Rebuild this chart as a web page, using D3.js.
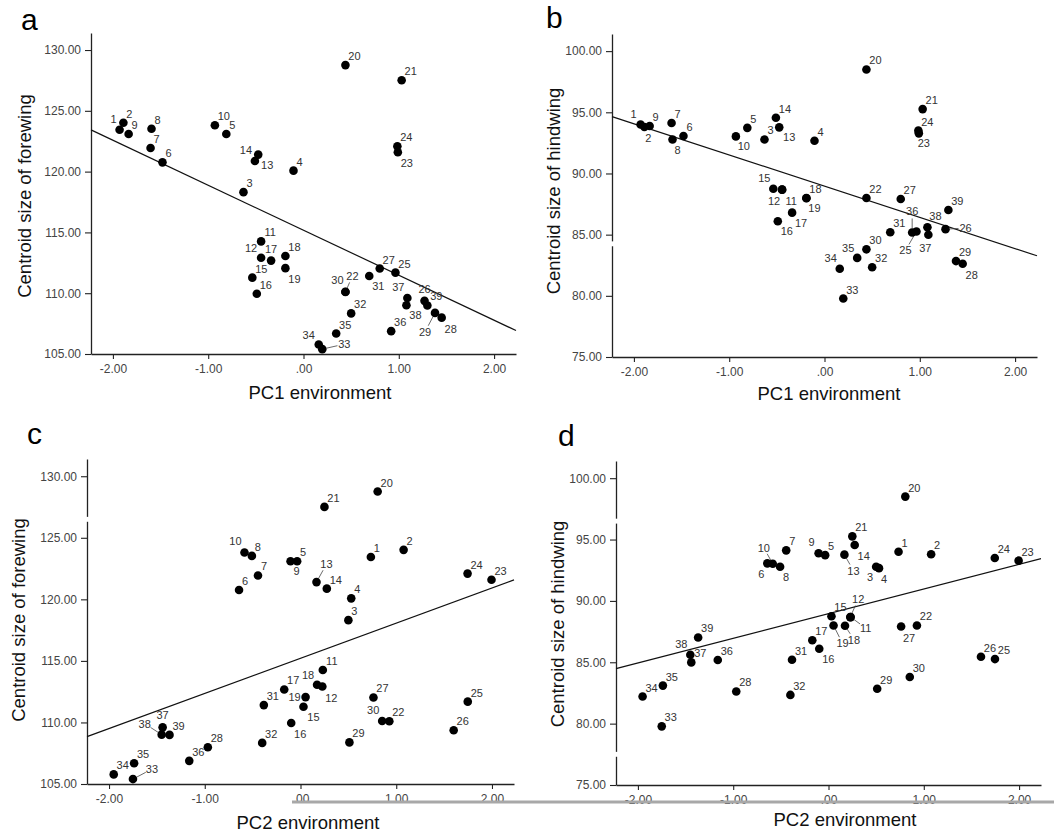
<!DOCTYPE html>
<html>
<head>
  <meta charset="UTF-8">
  <title>Centroid size vs environment PCs</title>
  <style>
    body { margin: 0; background: #fff; }
    svg { display: block; font-family: "Liberation Sans", Arial, sans-serif; }
  </style>
</head>
<body>
  <svg width="1054" height="833"></svg>

  <script src="https://d3js.org/d3.v7.min.js"></script>
  <script>
    // population numbers
    const ids = [1, 2, 3, 4, 5, 6, 7, 8, 9, 10, 11, 12, 13, 14, 15, 16, 17, 18, 19, 20,
                 21, 22, 23, 24, 25, 26, 27, 28, 29, 30, 31, 32, 33, 34, 35, 36, 37, 38, 39];

    // environment scores
    const pc1 = [-1.93, -1.89, -0.63, -0.105, -0.81, -1.48, -1.605, -1.595, -1.835, -0.93,
                 -0.445, -0.445, -0.475, -0.51, -0.537, -0.49, -0.34, -0.19, -0.19, 0.44,
                 1.03, 0.44, 0.99, 0.985, 0.965, 1.27, 0.80, 1.45, 1.38, 0.44,
                 0.69, 0.50, 0.197, 0.16, 0.343, 0.92, 1.09, 1.08, 1.30];
    const pc2 = [0.735, 1.077, 0.50, 0.53, -0.035, -0.642, -0.444, -0.508, -0.104, -0.585,
                 0.233, 0.228, 0.167, 0.275, 0.031, -0.097, -0.17, 0.173, 0.053, 0.806,
                 0.25, 0.928, 1.995, 1.745, 1.747, 1.60, 0.762, -0.968, 0.511, 0.853,
                 -0.383, -0.40, -1.75, -1.951, -1.738, -1.162, -1.44, -1.45, -1.368];

    // centroid sizes
    const forewing = [123.44, 124.02, 118.31, 120.08, 123.09, 120.76, 121.94, 123.53, 123.09, 123.81,
                      114.26, 112.92, 121.40, 120.87, 111.28, 109.96, 112.68, 113.06, 112.06, 128.76,
                      127.51, 110.10, 121.59, 122.09, 111.69, 109.37, 112.03, 107.99, 108.38, 110.12,
                      111.41, 108.34, 105.40, 105.78, 106.68, 106.88, 109.60, 109.01, 108.99];
    const hindwing = [94.0, 93.8, 92.78, 92.67, 93.73, 93.06, 94.12, 92.78, 93.88, 93.03,
                      88.68, 88.68, 93.77, 94.55, 88.75, 86.1, 86.8, 87.98, 88.0, 98.5,
                      95.26, 88.0, 93.28, 93.5, 85.26, 85.45, 87.91, 82.62, 82.84, 83.8,
                      85.2, 82.34, 79.78, 82.21, 83.1, 85.18, 84.99, 85.61, 87.02];

    const xTicks = [-2, -1, 0, 1, 2];
    const forewingTicks = [105, 110, 115, 120, 125, 130];
    const hindwingTicks = [75, 80, 85, 90, 95, 100];

    // fitted lines as drawn: [intercept, slope]
    const fitA = [115.18, -3.70];
    const fitB = [88.96, -2.55];
    const fitC = [115.21, 2.855];
    const fitD = [88.96, 2.01];

    // label placements that differ from the usual upper-right one (centre offset in px)
    const labelsA = {1: [-6, -11], 14: [-9, -11], 13: [9, 10], 23: [9, 11], 12: [-10, -10], 17: [0, -12],
                     19: [9, 11], 31: [9, 10], 30: [-8, -12], 22: [7, -16], 37: [-9, -11], 38: [9, 10],
                     26: [0, -12], 29: [-10, 19], 28: [9, 11], 34: [-10, -10], 33: [22, -5]};
    const labelsB = {1: [-7, -11], 2: [4, 11], 8: [5, 11], 10: [8, 10], 13: [10, 10], 23: [5, 10],
                     15: [-9, -11], 12: [-8, 11], 11: [9, 11], 19: [8, 10], 17: [9, 10], 16: [9, 10],
                     36: [0, -21], 38: [8, -11], 25: [-11, 19], 37: [-3, 13], 26: [20, -1], 28: [9, 11],
                     35: [-9, -10], 34: [-9, -11]};
    const labelsC = {9: [6, 10], 10: [-9, -11], 13: [10, -18], 18: [-9, -10], 12: [9, 11], 19: [-11, 0],
                     15: [10, 10], 16: [9, 11], 30: [-9, -11], 37: [0, -12], 38: [-17, -11], 33: [19, -10]};
    const labelsD = {3: [-6, 10], 4: [5, 11], 9: [-7, -11], 6: [-6, 11], 10: [-9, -16], 8: [6, 10],
                     13: [9, 16], 14: [9, 11], 12: [8, -18], 11: [15, 11], 19: [9, 18], 18: [9, 14],
                     16: [9, 10], 27: [8, 11], 38: [-9, -11]};

    const panels = [
      { letter: 'a', xs: pc1, ys: forewing, fit: fitA, yTicks: forewingTicks, yDomain: [105, 131.4],
        labels: labelsA, box: { left: 91, right: 516, top: 33, bottom: 354 },
        letterPos: [21, 30], xTitle: 'PC1 environment', xTitlePos: [320, 399],
        yTitle: 'Centroid size of forewing', yTitlePos: [31, 196], gaps: [] },
      { letter: 'b', xs: pc1, ys: hindwing, fit: fitB, yTicks: hindwingTicks, yDomain: [75, 101.4],
        labels: labelsB, box: { left: 612, right: 1037, top: 34, bottom: 357 },
        letterPos: [546, 28], xTitle: 'PC1 environment', xTitlePos: [829, 400],
        yTitle: 'Centroid size of hindwing', yTitlePos: [560, 191], gaps: [[84.05, 84.45]] },
      { letter: 'c', xs: pc2, ys: forewing, fit: fitC, yTicks: forewingTicks, yDomain: [105, 131.4],
        labels: labelsC, box: { left: 87, right: 514, top: 459, bottom: 784 },
        letterPos: [27, 444], xTitle: 'PC2 environment', xTitlePos: [308, 829],
        yTitle: 'Centroid size of forewing', yTitlePos: [25, 620], gaps: [[126.3, 126.7]] },
      { letter: 'd', xs: pc2, ys: hindwing, fit: fitD, yTicks: hindwingTicks, yDomain: [75, 101.4],
        labels: labelsD, box: { left: 616, right: 1041, top: 461, bottom: 785 },
        letterPos: [558, 446], xTitle: 'PC2 environment', xTitlePos: [845, 826],
        yTitle: 'Centroid size of hindwing', yTitlePos: [564, 624], gaps: [[96.3, 96.7], [77.3, 77.7]] }
    ];

    const xDomain = [-2.23, 2.23];
    const fmtX = d => d === 0 ? '.00' : d.toFixed(2);
    const fmtY = d3.format('.2f');

    const svg = d3.select('svg');

    panels.forEach(p => {
      const x = d3.scaleLinear().domain(xDomain).range([p.box.left, p.box.right]);
      const y = d3.scaleLinear().domain(p.yDomain).range([p.box.bottom, p.box.top]);
      const g = svg.append('g');

      // axes
      const xAxis = g.append('g')
        .attr('transform', `translate(0, ${p.box.bottom})`)
        .call(d3.axisBottom(x).tickValues(xTicks).tickFormat(fmtX)
          .tickSize(5).tickSizeOuter(0).tickPadding(5));
      const yAxis = g.append('g')
        .attr('transform', `translate(${p.box.left}, 0)`)
        .call(d3.axisLeft(y).tickValues(p.yTicks).tickFormat(fmtY)
          .tickSize(6).tickSizeOuter(0).tickPadding(4));

      [xAxis, yAxis].forEach(a => {
        a.attr('font-family', null).attr('font-size', null);
        a.select('.domain').attr('stroke', '#222').attr('stroke-width', 1.3);
        a.selectAll('.tick line').attr('stroke', '#222').attr('stroke-width', 1.1);
        a.selectAll('.tick text').attr('font-size', '12px').attr('fill', '#444');
      });

      // small breaks in the y axis
      p.gaps.forEach(gp => {
        g.append('rect')
          .attr('x', p.box.left - 2)
          .attr('y', y(gp[1]))
          .attr('width', 4)
          .attr('height', y(gp[0]) - y(gp[1]))
          .attr('fill', '#fff');
      });

      // fitted line
      g.append('path')
        .datum(xDomain)
        .attr('fill', 'none')
        .attr('stroke', '#111')
        .attr('stroke-width', 1.2)
        .attr('d', d3.line().x(d => x(d)).y(d => y(p.fit[0] + p.fit[1] * d)));

      const pts = ids.map((id, i) => ({ id, vx: p.xs[i], vy: p.ys[i] }));
      const offset = d => p.labels[d.id] || [3 + 3 * String(d.id).length, -9];

      // leader lines for labels placed further away
      g.selectAll('line.leader')
        .data(pts.filter(d => Math.hypot(...offset(d)) > 15))
        .join('line')
        .attr('class', 'leader')
        .attr('stroke', '#444')
        .attr('stroke-width', 0.8)
        .each(function (d) {
          const [dx, dy] = offset(d);
          const len = Math.hypot(dx, dy);
          const ux = dx / len, uy = dy / len;
          d3.select(this)
            .attr('x1', x(d.vx) + ux * 4).attr('y1', y(d.vy) + uy * 4)
            .attr('x2', x(d.vx) + ux * (len - 7)).attr('y2', y(d.vy) + uy * (len - 7));
        });

      g.selectAll('circle')
        .data(pts)
        .join('circle')
        .attr('cx', d => x(d.vx))
        .attr('cy', d => y(d.vy))
        .attr('r', 4.3)
        .attr('fill', '#000');

      g.selectAll('text.pt')
        .data(pts)
        .join('text')
        .attr('class', 'pt')
        .attr('x', d => x(d.vx) + offset(d)[0])
        .attr('y', d => y(d.vy) + offset(d)[1])
        .attr('text-anchor', 'middle')
        .attr('dominant-baseline', 'central')
        .attr('font-size', '11px')
        .attr('fill', '#333')
        .text(d => d.id);

      // titles
      g.append('text')
        .attr('x', p.xTitlePos[0])
        .attr('y', p.xTitlePos[1])
        .attr('text-anchor', 'middle')
        .attr('font-size', '18.5px')
        .attr('fill', '#111')
        .text(p.xTitle);

      g.append('text')
        .attr('transform', `translate(${p.yTitlePos[0]}, ${p.yTitlePos[1]}) rotate(-90)`)
        .attr('text-anchor', 'middle')
        .attr('font-size', '18.5px')
        .attr('fill', '#111')
        .text(p.yTitle);

      g.append('text')
        .attr('x', p.letterPos[0])
        .attr('y', p.letterPos[1])
        .attr('font-size', '30px')
        .attr('fill', '#000')
        .text(p.letter);
    });

    // grey streak across the bottom of the lower panels
    svg.append('line')
      .attr('x1', 292).attr('x2', 1054)
      .attr('y1', 802).attr('y2', 802)
      .attr('stroke', '#a8a8a8')
      .attr('stroke-width', 3);
  </script>
</body>
</html>
